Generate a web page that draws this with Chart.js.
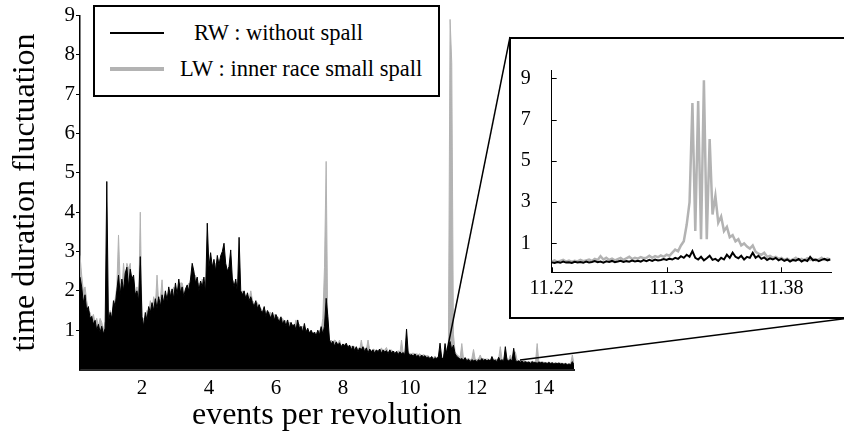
<!DOCTYPE html>
<html lang="en">
  <head>
    <meta charset="UTF-8" />
    <title>Time duration fluctuation spectrum</title>
    <script src="https://cdn.jsdelivr.net/npm/chart.js"></script>
    <style>
      html, body { margin: 0; padding: 0; background: #fff; }
      body { width: 844px; height: 432px; position: relative; overflow: hidden;
             font-family: "Liberation Serif", "Times New Roman", serif; }
      #mainChart { position: absolute; left: 0; top: 0; }
      #links { position: absolute; left: 0; top: 0; }
      .legend { position: absolute; left: 93px; top: 5px; width: 343px; height: 88px;
                border: 2px solid #000; background: #fff; }
      .legend .row { position: absolute; left: 0; font-size: 22.5px; line-height: 24px; white-space: nowrap; }
      .legend .swatch { position: absolute; left: 15px; width: 54px; }
      .legend .label { position: absolute; top: 0; }
      .zoombox { position: absolute; left: 509px; top: 37px; width: 345px; height: 278px;
                 border: 2px solid #000; background: #fff; }
      #zoomChart { position: absolute; left: 509px; top: 37px; }
    </style>
  </head>
  <body>
    <canvas id="mainChart" width="844" height="432"></canvas>
    <svg id="links" width="844" height="432">
      <line x1="446" y1="356" x2="510" y2="37" stroke="#000" stroke-width="1.5" />
      <line x1="520" y1="360" x2="850" y2="318" stroke="#000" stroke-width="1.5" />
    </svg>
    <div class="legend">
      <div class="row" style="top: 14px">
        <div class="swatch" style="top: 11px; border-top: 2px solid #000"></div>
        <span class="label" id="rwLabel" style="left: 99px"></span>
      </div>
      <div class="row" style="top: 50px">
        <div class="swatch" style="top: 10px; border-top: 4px solid #b3b3b3"></div>
        <span class="label" id="lwLabel" style="left: 85px"></span>
      </div>
    </div>
    <div class="zoombox"></div>
    <canvas id="zoomChart" width="335" height="282"></canvas>

    <script>
      const seriesNames = ["RW : without spall", "LW : inner race small spall"];
      const xTitle = "events per revolution";
      const yTitle = "time duration fluctuation";

      // spectrum sampled every 0.05 events/rev starting at 0.15
      const freqStart = 0.15;
      const freqStep = 0.05;

      // RW (black)
      const rwValues = [
        2.35, 2.1, 1.7, 1.9, 1.5, 1.6, 1.3, 1.35, 1.15, 1.25,
        1.0, 1.15, 0.95, 1.1, 0.9, 1.05, 4.78, 1.2,
        1.45, 1.3, 1.75, 1.6, 2.0, 2.4, 1.9, 2.3, 2.0, 2.45,
        2.6, 2.1, 2.55, 2.3, 2.4, 1.9, 2.0, 1.75, 2.87, 1.35,
        1.1, 1.45, 1.25, 1.6, 1.45, 1.7, 1.5, 1.8, 1.55, 1.85,
        1.6, 1.9, 1.7, 2.0, 1.75, 2.1, 1.85, 2.05, 1.8, 2.2,
        1.9, 2.3, 1.95, 2.1, 1.85, 2.05, 2.15, 2.0, 2.3, 2.7,
        2.5, 2.2, 2.35, 2.0, 2.25, 2.1, 2.35, 1.95, 3.72, 2.6,
        2.97, 2.6, 2.8, 2.5, 2.9, 2.65, 2.89, 3.0, 3.21, 2.7,
        2.5, 2.62, 3.04, 2.3, 2.1, 2.3, 1.95, 3.36, 2.0, 1.9,
        2.0, 1.8, 1.95, 1.75, 1.85, 1.7, 1.6, 1.75, 1.55, 1.65,
        1.5, 1.45, 1.6, 1.35, 1.5, 1.4, 1.3, 1.45, 1.25, 1.4,
        1.3, 1.2, 1.34, 1.15, 1.25, 1.1, 1.26, 1.05, 1.2, 1.1,
        1.15, 1.0, 1.26, 1.05, 1.1, 0.95, 1.17, 0.95, 1.05, 0.92,
        1.0, 0.9, 0.95, 0.85, 1.0, 0.88, 1.09, 0.9, 1.1, 1.81,
        1.35, 0.75, 0.65, 0.72, 0.6, 0.7, 0.62, 0.68, 0.58, 0.65,
        0.6, 0.67, 0.55, 0.62, 0.5, 0.6, 0.48, 0.58, 0.45, 0.55,
        0.5, 0.58, 0.45, 0.55, 0.42, 0.52, 0.45, 0.5, 0.41, 0.5,
        0.45, 0.52, 0.41, 0.5, 0.44, 0.48, 0.4, 0.5, 0.42, 0.47,
        0.4, 0.46, 0.38, 0.45, 0.4, 0.43, 0.38, 1.03, 0.42, 0.36,
        0.38, 0.34, 0.4, 0.33, 0.36, 0.3, 0.37, 0.32, 0.35, 0.3,
        0.32, 0.28, 0.33, 0.26, 0.3, 0.28, 0.32, 0.67, 0.3, 0.26,
        0.66, 0.35, 0.58, 0.71, 0.5, 0.62, 0.4, 0.33, 0.3, 0.26,
        0.28, 0.24, 0.3, 0.22, 0.26, 0.2, 0.25, 0.22, 0.24, 0.2,
        0.25, 0.22, 0.28, 0.23, 0.26, 0.22, 0.25, 0.21, 0.33, 0.22,
        0.24, 0.2, 0.31, 0.22, 0.25, 0.21, 0.58, 0.24, 0.22, 0.26,
        0.22, 0.54, 0.24, 0.2, 0.22, 0.19, 0.21, 0.18, 0.2, 0.17,
        0.19, 0.16, 0.2, 0.17, 0.18, 0.16, 0.19, 0.17, 0.18, 0.16,
        0.17, 0.15, 0.18, 0.15, 0.17, 0.14, 0.16, 0.15, 0.16, 0.14,
        0.15, 0.13, 0.15, 0.12, 0.14, 0.12, 0.2, 0.12
      ];

      // LW (grey)
      const lwValues = [
        2.9, 2.4, 2.0, 2.1, 1.75, 1.5, 1.45, 1.3, 1.4, 1.2,
        1.3, 1.1, 1.3, 1.2, 1.0, 1.2, 1.0, 1.3,
        1.5, 1.4, 1.6, 1.8, 2.1, 3.42, 2.2, 2.0, 2.7, 2.2,
        2.7, 2.55, 2.7, 2.0, 2.2, 1.8, 2.1, 1.6, 4.0, 1.3,
        1.3, 1.2, 1.5, 1.4, 1.75, 1.5, 1.85, 1.6, 2.4, 1.7,
        1.8, 2.28, 1.6, 1.9, 1.85, 1.95, 2.0, 1.9, 2.1, 2.0,
        2.0, 2.1, 2.2, 2.2, 2.0, 1.9, 2.1, 2.2, 2.1, 2.4,
        2.3, 2.4, 2.1, 2.2, 2.0, 2.3, 2.0, 2.2, 2.5, 2.4,
        2.7, 2.5, 2.6, 2.7, 2.6, 2.8, 2.6, 2.9, 2.8, 2.6,
        2.4, 2.5, 2.4, 2.3, 2.2, 2.1, 2.2, 2.0, 1.9, 2.0,
        1.9, 1.85, 1.8, 1.8, 2.0, 1.75, 1.7, 1.6, 1.7, 1.6,
        1.55, 1.5, 1.45, 1.5, 1.4, 1.45, 1.45, 1.35, 1.4, 1.3,
        1.35, 1.3, 1.25, 1.3, 1.2, 1.25, 1.15, 1.2, 1.1, 1.15,
        1.1, 1.26, 1.1, 1.15, 1.0, 1.1, 1.05, 1.0, 1.0, 0.95,
        0.95, 0.95, 0.9, 0.95, 0.9, 1.0, 1.0, 1.3, 2.6, 5.29,
        0.9, 0.7, 0.75, 0.7, 0.75, 0.72, 0.65, 0.75, 0.6, 0.6,
        0.65, 0.6, 0.62, 0.55, 0.6, 0.55, 0.58, 0.5, 0.55, 0.5,
        0.75, 0.5, 0.55, 0.5, 0.75, 0.5, 0.48, 0.52, 0.5, 0.45,
        0.5, 0.48, 0.55, 0.45, 0.5, 0.56, 0.45, 0.48, 0.5, 0.45,
        0.45, 0.42, 0.48, 0.4, 0.75, 0.42, 0.45, 0.4, 0.45, 0.4,
        0.4, 0.42, 0.36, 0.4, 0.38, 0.4, 0.34, 0.38, 0.36, 0.35,
        0.35, 0.3, 0.32, 0.3, 0.34, 0.3, 0.33, 0.35, 0.3, 0.32,
        0.45, 0.4, 0.6, 8.9, 7.8, 0.9, 0.45, 0.38, 0.35, 0.3,
        0.66, 0.28, 0.3, 0.26, 0.28, 0.25, 0.28, 0.51, 0.26, 0.25,
        0.28, 0.37, 0.26, 0.28, 0.25, 0.27, 0.26, 0.25, 0.3, 0.26,
        0.26, 0.25, 0.28, 0.58, 0.26, 0.25, 0.4, 0.27, 0.25, 0.37,
        0.25, 0.3, 0.45, 0.24, 0.22, 0.23, 0.2, 0.22, 0.21, 0.2,
        0.2, 0.19, 0.21, 0.2, 0.19, 0.66, 0.2, 0.19, 0.2, 0.18,
        0.18, 0.17, 0.19, 0.17, 0.18, 0.16, 0.17, 0.16, 0.18, 0.16,
        0.16, 0.15, 0.16, 0.14, 0.15, 0.14, 0.37, 0.14
      ];

      // zoomed window around the spall order, sampled every 0.002
      const zoomStart = 11.22;
      const zoomStep = 0.002;

      const rwZoom = [
        0.08, 0.05, 0.1, 0.06, 0.12, 0.07, 0.09, 0.05, 0.11, 0.08,
        0.1, 0.06, 0.12, 0.08, 0.1, 0.14, 0.09, 0.12, 0.07, 0.13,
        0.1, 0.15, 0.09, 0.12, 0.16, 0.1, 0.14, 0.11, 0.17, 0.13,
        0.16, 0.12, 0.19, 0.14, 0.2, 0.15, 0.22, 0.17, 0.2, 0.24,
        0.2, 0.26, 0.22, 0.3, 0.25, 0.38, 0.3, 0.45, 0.35, 0.63,
        0.3, 0.22, 0.35, 0.18, 0.28, 0.4, 0.2, 0.25, 0.15, 0.3,
        0.22, 0.45, 0.3, 0.55, 0.35, 0.28, 0.4, 0.22, 0.35, 0.3,
        0.55, 0.3, 0.4, 0.25, 0.32, 0.2, 0.28, 0.22, 0.3, 0.18,
        0.25, 0.15, 0.22, 0.12, 0.2, 0.16, 0.24, 0.12, 0.2, 0.15,
        0.35, 0.18, 0.22, 0.14, 0.2, 0.25, 0.18, 0.22
      ];

      const lwZoom = [
        0.12, 0.18, 0.1, 0.15, 0.2, 0.12, 0.17, 0.1, 0.16, 0.13,
        0.2, 0.14, 0.18, 0.22, 0.15, 0.25, 0.2, 0.38, 0.22, 0.3,
        0.2, 0.26, 0.18, 0.24, 0.3, 0.2, 0.28, 0.35, 0.24, 0.3,
        0.26, 0.34, 0.28, 0.3, 0.4, 0.3, 0.38, 0.33, 0.42, 0.35,
        0.45, 0.4, 0.55, 0.7, 0.62, 0.9, 1.1, 1.9, 3.0, 7.8,
        1.6, 7.9, 1.2, 8.9, 1.2, 6.05, 2.4, 3.3, 2.0, 2.3,
        1.6, 1.8, 1.3, 1.4, 1.1, 1.2, 0.9, 1.0, 0.85, 0.75,
        0.9, 0.6, 0.5, 0.45, 0.55, 0.35, 0.4, 0.3, 0.35, 0.25,
        0.3, 0.2, 0.26, 0.18, 0.22, 0.3, 0.2, 0.25, 0.18, 0.28,
        0.2, 0.25, 0.18, 0.22, 0.3, 0.2, 0.26, 0.22
      ];

      const mainXTicks = [2, 4, 6, 8, 10, 12, 14];
      const mainYTicks = [1, 2, 3, 4, 5, 6, 7, 8, 9];
      const zoomXTicks = [11.22, 11.3, 11.38];
      const zoomYTicks = [1, 3, 5, 7, 9];

      const black = "#000000";
      const grey = "#b3b3b3";
      const serif = "'Liberation Serif', 'Times New Roman', serif";

      document.getElementById("rwLabel").textContent = seriesNames[0];
      document.getElementById("lwLabel").textContent = seriesNames[1];

      Chart.defaults.font.family = serif;
      Chart.defaults.color = "#000";

      function toPoints(values, start, step, digits) {
        return values.map((v, i) => ({ x: +(start + i * step).toFixed(digits), y: v }));
      }

      // short tick marks pointing into the plot, as in the inset
      const innerTicks = {
        id: "innerTicks",
        afterDraw(chart) {
          const { ctx, chartArea, scales } = chart;
          ctx.save();
          ctx.strokeStyle = "#000";
          ctx.lineWidth = 1;
          ctx.beginPath();
          scales.x.ticks.forEach((t) => {
            const px = Math.round(scales.x.getPixelForValue(t.value)) + 0.5;
            ctx.moveTo(px, chartArea.bottom);
            ctx.lineTo(px, chartArea.bottom - 5);
          });
          scales.y.ticks.forEach((t) => {
            const py = Math.round(scales.y.getPixelForValue(t.value)) + 0.5;
            ctx.moveTo(chartArea.left, py);
            ctx.lineTo(chartArea.left + 5, py);
          });
          ctx.stroke();
          ctx.restore();
        },
      };

      new Chart(document.getElementById("mainChart"), {
        type: "line",
        data: {
          datasets: [
            {
              label: seriesNames[0],
              data: toPoints(rwValues, freqStart, freqStep, 2),
              borderColor: black,
              backgroundColor: black,
              borderWidth: 1,
              fill: "origin",
              pointRadius: 0,
              order: 0,
            },
            {
              label: seriesNames[1],
              data: toPoints(lwValues, freqStart, freqStep, 2),
              borderColor: grey,
              backgroundColor: grey,
              borderWidth: 1,
              fill: "origin",
              pointRadius: 0,
              order: 1,
            },
          ],
        },
        options: {
          responsive: false,
          animation: false,
          layout: { padding: { top: 15.5, right: 270, left: 0, bottom: 0 } },
          plugins: { legend: { display: false }, tooltip: { enabled: false } },
          scales: {
            x: {
              type: "linear",
              min: 0.15,
              max: 14.9,
              afterBuildTicks: (s) => { s.ticks = mainXTicks.map((v) => ({ value: v })); },
              afterFit: (s) => { s.height = 62.5; },
              grid: { display: false, drawTicks: false, tickLength: 0 },
              border: { color: "#222", width: 2 },
              ticks: { font: { family: serif, size: 21 }, padding: 6, maxRotation: 0, callback: (v) => String(v) },
              title: { display: true, text: xTitle, font: { family: serif, size: 32, lineHeight: 1 }, padding: { top: 0, bottom: 0 } },
            },
            y: {
              min: 0,
              max: 9,
              afterBuildTicks: (s) => { s.ticks = mainYTicks.map((v) => ({ value: v })); },
              afterFit: (s) => { s.width = 80; },
              grid: { drawOnChartArea: false, tickLength: 4, color: "#000" },
              border: { color: "#000", width: 1.5 },
              ticks: { font: { family: serif, size: 21 }, padding: 1, callback: (v) => String(v) },
              title: { display: true, text: yTitle, font: { family: serif, size: 32 }, padding: { top: 6, bottom: 0 } },
            },
          },
        },
      });

      new Chart(document.getElementById("zoomChart"), {
        type: "line",
        data: {
          datasets: [
            {
              label: seriesNames[0],
              data: toPoints(rwZoom, zoomStart, zoomStep, 3),
              borderColor: black,
              borderWidth: 2,
              pointRadius: 0,
              order: 0,
            },
            {
              label: seriesNames[1],
              data: toPoints(lwZoom, zoomStart, zoomStep, 3),
              borderColor: grey,
              borderWidth: 2.5,
              pointRadius: 0,
              order: 1,
            },
          ],
        },
        plugins: [innerTicks],
        options: {
          responsive: false,
          animation: false,
          layout: { padding: { top: 24.7, right: 12.3, left: 0, bottom: 0 } },
          plugins: { legend: { display: false }, tooltip: { enabled: false } },
          scales: {
            x: {
              type: "linear",
              min: 11.22,
              max: 11.415,
              afterBuildTicks: (s) => { s.ticks = zoomXTicks.map((v) => ({ value: v })); },
              afterFit: (s) => { s.height = 46.7; },
              grid: { display: false, drawTicks: false, tickLength: 0 },
              border: { color: "#000", width: 1 },
              ticks: { font: { family: serif, size: 20 }, padding: 4, maxRotation: 0, callback: (v) => String(v) },
            },
            y: {
              min: -0.4,
              max: 9.4,
              afterBuildTicks: (s) => { s.ticks = zoomYTicks.map((v) => ({ value: v })); },
              afterFit: (s) => { s.width = 42.7; },
              grid: { display: false, drawTicks: false, tickLength: 0 },
              border: { color: "#000", width: 1 },
              ticks: { font: { family: serif, size: 20 }, padding: 21, callback: (v) => String(v) },
            },
          },
        },
      });
    </script>
  </body>
</html>
